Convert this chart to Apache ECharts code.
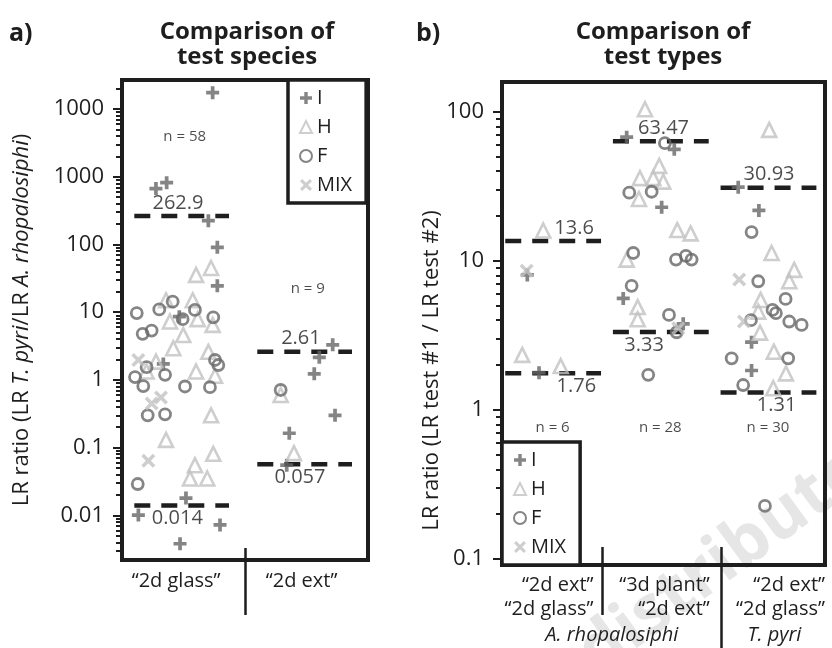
<!DOCTYPE html>
<html>
<head>
<meta charset="utf-8">
<script src="https://cdn.jsdelivr.net/npm/echarts@6/dist/echarts.min.js"></script>
<style>
  html, body { margin: 0; padding: 0; background: #fff; }
  #chart { width: 832px; height: 648px; }
</style>
</head>
<body>
<div id="chart"></div>
<script>
// ---- panel a: test species, x = position in panel (0..2), LR ratio ----
const catsA = ['\u201c2d glass\u201d', '\u201c2d ext\u201d'];
const nA = [58, 9];
const medHighA = [262.9, 2.61];
const medLowA = [0.014, 0.057];
const tickLabelsA = ['0.01', '0.1', '1', '10', '100', '1000', '1000'];

const aI = [[0.737, 17500], [0.363, 820], [0.276, 670], [0.702, 225], [0.775, 91], [0.775, 24.5],
  [0.466, 8.6], [0.336, 1.72], [0.52, 0.018], [0.133, 0.0101], [0.797, 0.0072], [0.472, 0.0038],
  [1.713, 3.3], [1.604, 2.16], [1.563, 1.23], [1.732, 0.30], [1.36, 0.163], [1.339, 0.055]];
const aH = [[0.724, 45], [0.602, 35.6], [0.358, 15], [0.575, 15], [0.39, 7.3], [0.615, 7.9], [0.737, 6.5],
  [0.498, 4.6], [0.417, 2.94], [0.702, 2.6], [0.276, 1.86], [0.2, 1.33], [0.602, 1.33], [0.756, 1.15],
  [0.724, 0.30], [0.358, 0.13], [0.742, 0.081], [0.593, 0.055], [0.553, 0.035], [0.693, 0.035],
  [1.29, 0.60], [1.398, 0.083]];
const aF = [[0.412, 14.3], [0.12, 9.7], [0.303, 11], [0.593, 10.8], [0.493, 7.9], [0.742, 8.4],
  [0.168, 4.8], [0.241, 5.35], [0.756, 1.97], [0.783, 1.66], [0.2, 1.54], [0.35, 1.19], [0.106, 1.1],
  [0.173, 0.81], [0.512, 0.8], [0.715, 0.78], [0.209, 0.30], [0.35, 0.31], [0.128, 0.029],
  [1.29, 0.71]];
const aMIX = [[0.133, 1.97], [0.317, 0.55], [0.241, 0.45], [0.214, 0.064]];

// ---- panel b: test types, x = position in panel (0..3) ----
const catsB = ['\u201c2d ext\u201d\n\u201c2d glass\u201d', '\u201c3d plant\u201d\n\u201c2d ext\u201d', '\u201c2d ext\u201d\n\u201c2d glass\u201d'];
const speciesB = ['A. rhopalosiphi', 'T. pyri'];
const nB = [6, 28, 30];
const medHighB = [13.6, 63.47, 30.93];
const medLowB = [1.76, 3.33, 1.31];
const tickLabelsB = ['0.1', '1', '10', '100'];

const bI = [[0.235, 8.05], [0.344, 1.78],
  [1.158, 67.6], [1.6, 56], [1.483, 22.9], [1.126, 5.6], [1.683, 3.78],
  [2.194, 31.2], [2.386, 21.8], [2.318, 2.85], [2.318, 1.84]];
const bH = [[0.383, 16], [0.188, 2.34], [0.545, 1.97],
  [1.328, 104], [1.46, 43.4], [1.281, 35.9], [1.405, 35.9], [1.498, 34], [1.272, 26], [1.628, 16.1],
  [1.752, 15.3], [1.158, 10.2], [1.26, 4.9], [1.26, 4.06],
  [2.482, 75.7], [2.504, 11.3], [2.714, 8.7], [2.668, 7.3], [2.402, 5.47], [2.38, 4.57], [2.396, 3.3],
  [2.525, 2.46], [2.637, 1.76], [2.519, 1.40]];
const bF = [[1.513, 61.6], [1.182, 28.7], [1.39, 29.1], [1.219, 11.3], [1.616, 10.2], [1.708, 10.8],
  [1.761, 10.2], [1.204, 6.8], [1.551, 4.34], [1.622, 3.32], [1.358, 1.72],
  [2.318, 15.6], [2.38, 7.3], [2.634, 5.56], [2.513, 4.69], [2.544, 4.46], [2.668, 3.92], [2.783, 3.72],
  [2.312, 4.0], [2.133, 2.22], [2.658, 2.22], [2.24, 1.47], [2.442, 0.227]];
const bMIX = [[0.229, 8.6], [1.637, 3.53], [2.203, 7.5], [2.247, 3.92]];

const FONT = "'Open Sans', sans-serif";
const INK = '#1e1e1e';
const DARK = '#676767';
const LIGHT = '#c2c2c2';
const PLUS = 'path://M5,0H9V5H14V9H9V14H5V9H0V5H5Z';
const CROSS = 'path://M0,2.5L2.5,0L7,4.5L11.5,0L14,2.5L9.5,7L14,11.5L11.5,14L7,9.5L2.5,14L0,11.5L4.5,7Z';

const lg = v => Math.log10(v);
const toPts = arr => arr.map(d => [d[0], lg(d[1]), d[1]]);

// y ranges in log10 units
const yA = [-2.66, 4.43];
const yB = [-1.04, 2.2];

function majors(r) {
  const out = [];
  for (let d = Math.ceil(r[0]); d <= r[1]; d++) out.push(d);
  return out;
}
function minors(r) {
  const out = [];
  for (let d = Math.floor(r[0]); d <= r[1]; d++) {
    for (let k = 2; k <= 9; k++) {
      const v = d + Math.log10(k);
      if (v > r[0] && v < r[1]) out.push(v);
    }
  }
  return out;
}

const markStyle = {
  I: { symbol: PLUS, size: 13, item: { color: DARK } },
  H: { symbol: 'triangle', size: 14, item: { color: 'rgba(0,0,0,0)', borderColor: LIGHT, borderWidth: 2.6 } },
  F: { symbol: 'circle', size: 11, item: { color: 'rgba(0,0,0,0)', borderColor: DARK, borderWidth: 2.8 } },
  MIX: { symbol: CROSS, size: 14, item: { color: LIGHT } }
};

function pointSeries(name, data, p) {
  const st = markStyle[name];
  return {
    type: 'scatter', name: name, xAxisIndex: p === 0 ? 0 : 2, yAxisIndex: p === 0 ? 0 : 2,
    data: toPts(data), symbol: st.symbol, symbolSize: st.size,
    itemStyle: st.item, emphasis: { disabled: true }, z: 3
  };
}

function medianLine(x0, x1, v, p) {
  return {
    type: 'line', xAxisIndex: p === 0 ? 0 : 2, yAxisIndex: p === 0 ? 0 : 2,
    data: [[x0, lg(v)], [x1, lg(v)]], symbol: 'none', silent: true, z: 2,
    lineStyle: { color: INK, width: 4.5, type: [16, 11] }
  };
}

function textSeries(items, p, size) {
  return {
    type: 'scatter', xAxisIndex: p === 0 ? 0 : 2, yAxisIndex: p === 0 ? 0 : 2,
    symbolSize: 0, silent: true, z: 4,
    data: items,
    label: {
      show: true, fontFamily: FONT, fontSize: size, color: INK, distance: 3,
      formatter: q => q.data.text
    }
  };
}

const series = [];
['I', 'H', 'F', 'MIX'].forEach(n => {
  series.push(pointSeries(n, { I: aI, H: aH, F: aF, MIX: aMIX }[n], 0));
});
['I', 'H', 'F', 'MIX'].forEach(n => {
  series.push(pointSeries(n, { I: bI, H: bH, F: bF, MIX: bMIX }[n], 1));
});

// dashed median lines
medHighA.forEach((v, g) => series.push(medianLine(g + 0.1, g + 0.87, v, 0)));
medLowA.forEach((v, g) => series.push(medianLine(g + 0.1, g + 0.87, v, 0)));
medHighB.forEach((v, g) => series.push(medianLine(g + 0.03, g + 0.92, v, 1)));
medLowB.forEach((v, g) => series.push(medianLine(g + 0.03, g + 0.92, v, 1)));

// median value labels
const labXA = [[0.455, 0.45], [1.455, 1.447]];
series.push(textSeries([
  ...medHighA.map((v, g) => ({ value: [labXA[g][0], lg(v)], text: String(v), label: { position: 'top' } })),
  ...medLowA.map((v, g) => ({ value: [labXA[g][1], lg(v)], text: String(v), label: { position: 'bottom' } }))
], 0, 20));
const labXB = [[0.67, 0.69], [1.5, 1.32], [2.48, 2.55]];
series.push(textSeries([
  ...medHighB.map((v, g) => ({ value: [labXB[g][0], lg(v)], text: String(v), label: { position: 'top' } })),
  ...medLowB.map((v, g) => ({ value: [labXB[g][1], lg(v)], text: String(v), label: { position: 'bottom' } }))
], 1, 20));

// n = ... labels
const nLevelA = [3.59, 1.344];
series.push(textSeries(nA.map((n, g) => ({ value: [g + 0.51, nLevelA[g]], text: 'n = ' + n, label: { position: 'inside' } })), 0, 15));
series.push(textSeries(nB.map((n, g) => ({ value: [g + 0.47, -0.12], text: 'n = ' + n, label: { position: 'inside' } })), 1, 15));

const tickLine = { color: INK, width: 2 };
const divLine = { color: INK, width: 2.5 };

function yAxes(grid, r, labels, name, gap, namePad) {
  const maj = majors(r);
  return [{
    type: 'value', gridIndex: grid, position: 'left', min: r[0], max: r[1],
    axisLine: { show: false, onZero: false }, splitLine: { show: false },
    axisTick: { customValues: maj, length: 9, lineStyle: tickLine },
    axisLabel: {
      customValues: maj, margin: 18, fontFamily: FONT, fontSize: 22, color: INK,
      formatter: v => labels[Math.round(v) - maj[0]]
    },
    name: name, nameLocation: 'middle', nameRotate: 90, nameGap: gap,
    nameTextStyle: {
      fontFamily: FONT, fontSize: 22, color: INK, padding: namePad,
      rich: { i: { fontFamily: FONT, fontSize: 22, color: INK, fontStyle: 'italic' } }
    }
  }, {
    type: 'value', gridIndex: grid, position: 'left', min: r[0], max: r[1],
    axisLine: { show: false, onZero: false }, splitLine: { show: false },
    axisLabel: { show: false },
    axisTick: { customValues: minors(r), length: 6, lineStyle: tickLine }
  }];
}

const xPosA = [0.44, 1.46];
const xPosB = [0.85, 1.93, 3];
const xPosSpecies = [1.02, 2.53];

const option = {
  animation: false,
  backgroundColor: '#fff',
  textStyle: { fontFamily: FONT },
  title: [
    { text: 'a)', left: 9, top: 21, padding: 0, textStyle: { fontFamily: FONT, fontSize: 25, fontWeight: 'bold', color: INK } },
    { text: 'Comparison of\ntest species', left: 247, top: 20, padding: 0, textAlign: 'center',
      textStyle: { fontFamily: FONT, fontSize: 24, fontWeight: 'bold', color: INK, lineHeight: 25 } },
    { text: 'b)', left: 416, top: 21, padding: 0, textStyle: { fontFamily: FONT, fontSize: 25, fontWeight: 'bold', color: INK } },
    { text: 'Comparison of\ntest types', left: 663, top: 20, padding: 0, textAlign: 'center',
      textStyle: { fontFamily: FONT, fontSize: 24, fontWeight: 'bold', color: INK, lineHeight: 25 } }
  ],
  legend: [
    { left: 288, top: 80 }, { left: 502, top: 442 }
  ].map(pos => ({
    data: ['I', 'H', 'F', 'MIX'], orient: 'vertical', left: pos.left, top: pos.top,
    selectedMode: false, backgroundColor: '#fff', borderColor: INK, borderWidth: 3.5,
    padding: [8, 14, 8, 11], itemGap: 9, itemWidth: 12, itemHeight: 12,
    textStyle: { fontFamily: FONT, fontSize: 20, color: INK }, z: 5
  })),
  grid: [
    { left: 122, top: 80, width: 246, height: 480, show: true, borderColor: INK, borderWidth: 4, backgroundColor: 'transparent' },
    { left: 502, top: 82, width: 323, height: 483, show: true, borderColor: INK, borderWidth: 4, backgroundColor: 'transparent' }
  ],
  xAxis: [
    { type: 'value', gridIndex: 0, position: 'bottom', min: 0, max: 2,
      axisLine: { show: false, onZero: false }, splitLine: { show: false },
      axisTick: { customValues: [1], length: 55, lineStyle: divLine },
      axisLabel: { customValues: xPosA, margin: 11, fontFamily: FONT, fontSize: 20, color: INK,
        formatter: v => catsA[Math.floor(v)] } },
    { type: 'value', gridIndex: 0, position: 'bottom', min: 0, max: 2,
      axisLine: { show: false, onZero: false }, splitLine: { show: false }, axisLabel: { show: false },
      axisTick: { customValues: [1], inside: true, length: 12, lineStyle: divLine } },
    { type: 'value', gridIndex: 1, position: 'bottom', min: 0, max: 3,
      axisLine: { show: false, onZero: false }, splitLine: { show: false },
      axisTick: { customValues: [0.93], length: 50, lineStyle: divLine },
      axisLabel: { customValues: xPosB, margin: 8, align: 'right', fontFamily: FONT, fontSize: 20,
        lineHeight: 24, color: INK, formatter: v => catsB[Math.min(2, Math.floor(v))] } },
    { type: 'value', gridIndex: 1, position: 'bottom', min: 0, max: 3,
      axisLine: { show: false, onZero: false }, splitLine: { show: false },
      axisTick: { customValues: [2.04], length: 83, lineStyle: divLine },
      axisLabel: { customValues: xPosSpecies, margin: 60, fontFamily: FONT, fontSize: 20,
        fontStyle: 'italic', color: INK, formatter: v => speciesB[Math.floor(v) - 1] } },
    { type: 'value', gridIndex: 1, position: 'bottom', min: 0, max: 3,
      axisLine: { show: false, onZero: false }, splitLine: { show: false }, axisLabel: { show: false },
      axisTick: { customValues: [0.93, 2.04], inside: true, length: 18, lineStyle: divLine } }
  ],
  yAxis: [
    ...yAxes(0, yA, tickLabelsA, 'LR ratio (LR {i|T. pyri}/LR {i|A. rhopalosiphi})', 89, 0),
    ...yAxes(1, yB, tickLabelsB, 'LR ratio (LR test #1 / LR test #2)', 58, [0, 94, 0, 0])
  ],
  graphic: [{
    type: 'text', x: 722, y: 562, rotation: 0.63, z: -1, silent: true,
    style: { text: 'distribute', fontFamily: FONT, fontSize: 68, fontWeight: 'bold',
      fill: '#e6e6e6', align: 'center', verticalAlign: 'middle' }
  }],
  series: series
};

const chart = echarts.init(document.getElementById('chart'));
chart.setOption(option);
</script>
</body>
</html>
